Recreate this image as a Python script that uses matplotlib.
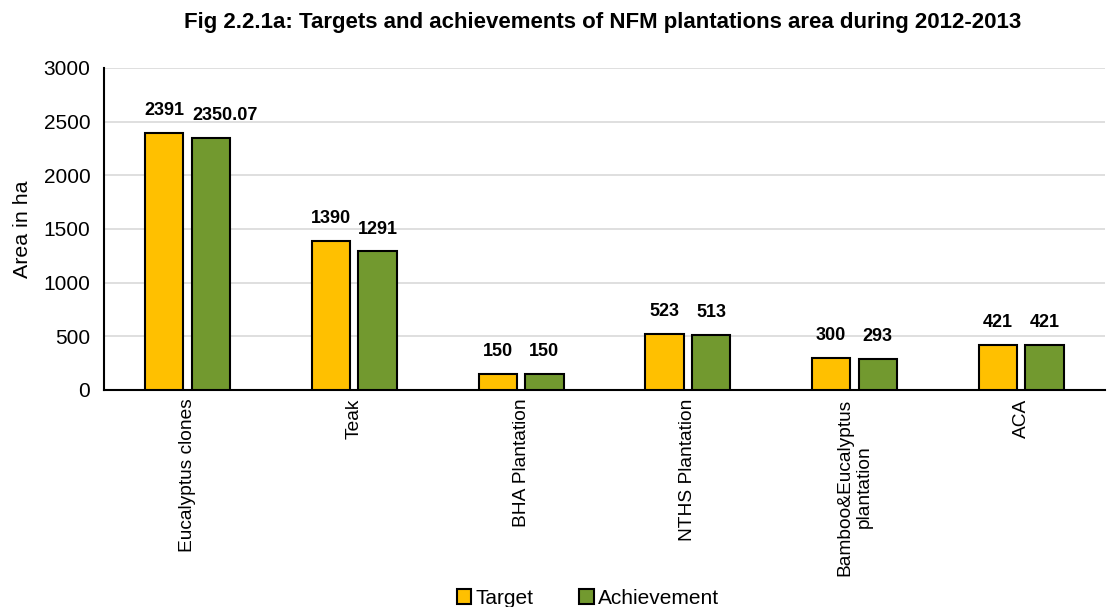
import numpy as np
import matplotlib.pyplot as plt

plt.rcParams['font.family'] = ['Liberation Sans', 'DejaVu Sans']

categories = ['Eucalyptus clones', 'Teak', 'BHA Plantation', 'NTHS Plantation',
              'Bamboo&Eucalyptus\nplantation', 'ACA']
target = [2391, 1390, 150, 523, 300, 421]
achievement = [2350.07, 1291, 150, 513, 293, 421]
target_labels = ['2391', '1390', '150', '523', '300', '421']
achievement_labels = ['2350.07', '1291', '150', '513', '293', '421']

fig = plt.figure(figsize=(11.09, 6.07), dpi=100)
ax = fig.add_axes([0.094, 0.3575, 0.902, 0.5305])

x = np.arange(len(categories))
w = 0.23
off = 0.14
b1 = ax.bar(x - off, target, w, color='#FFC000', edgecolor='black', linewidth=1.5,
            label='Target', zorder=3)
b2 = ax.bar(x + off, achievement, w, color='#72992F', edgecolor='black', linewidth=1.5,
            label='Achievement', zorder=3)
ax.bar_label(b1, labels=target_labels, padding=10, fontsize=13, fontweight='bold')
lbl2 = ax.bar_label(b2, labels=achievement_labels, padding=10, fontsize=13, fontweight='bold')
# wide first label sits a bit to the right, as in the original
lbl2[0].xyann = (10, 10)

ax.set_xlim(-0.5, len(categories) - 0.5)
ax.set_ylim(0, 3000)
ax.set_yticks(range(0, 3001, 500))
ax.tick_params(axis='y', labelsize=15, length=0, pad=10)
ax.tick_params(axis='x', labelsize=13.8, length=0, pad=6)
ax.set_xticks(x)
ax.set_xticklabels(categories, rotation=90, va='top', ha='center', multialignment='center')
ax.set_ylabel('Area in ha', fontsize=15.4, labelpad=8)
ax.yaxis.grid(True, color='#d9d9d9', linewidth=1.2, zorder=0)
ax.set_axisbelow(True)
for s in ['top', 'right']:
    ax.spines[s].set_visible(False)
ax.spines['left'].set_linewidth(1.5)
ax.spines['bottom'].set_linewidth(1.5)

fig.suptitle('Fig 2.2.1a: Targets and achievements of NFM plantations area during 2012-2013',
             x=0.543, y=0.98, fontsize=16, fontweight='bold')

fig.legend(handles=[b1, b2], loc='center', bbox_to_anchor=(0.53, 0.014), ncol=2,
           frameon=False, fontsize=15, handlelength=0.7, handleheight=0.7,
           handletextpad=0.2, columnspacing=2.2, borderpad=0)

fig.savefig('out.png', dpi=100)
